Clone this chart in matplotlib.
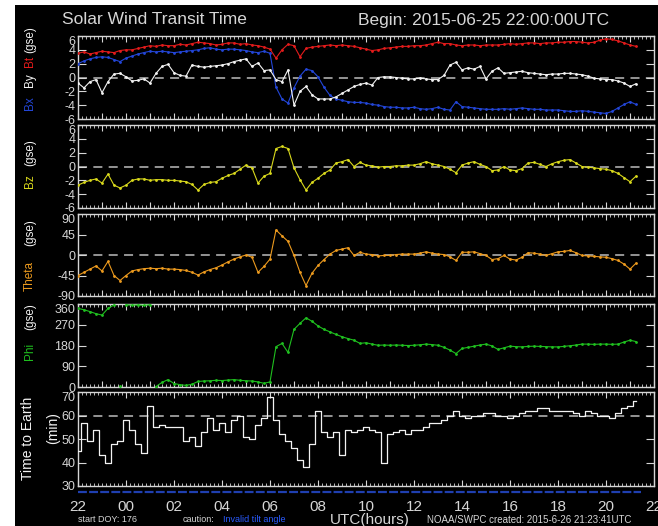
import numpy as np
import matplotlib.pyplot as plt
from matplotlib.patches import Rectangle
from matplotlib.ticker import MultipleLocator

plt.rcParams['font.family'] = ['Liberation Sans', 'DejaVu Sans']

# hours since 2015-06-25 22:00 UTC, one reading every 15 min
hours = np.arange(0, 23.5, 0.25)

# Bt / Bx / By (nT, gse)
bt = [3.5, 3.7, 3.4, 3.6, 3.8, 3.7, 3.6, 3.9,
      4.0, 4.0, 4.2, 4.4, 4.6, 4.5, 4.7, 4.6,
      4.6, 4.8, 4.7, 4.9, 5.1, 5.0, 4.9, 4.7,
      4.8, 5.0, 5.0, 4.8, 4.9, 4.7, 4.6, 4.4,
      4.1, 2.8, 4.0, 4.8, 4.6, 3.0, 4.2, 4.4,
      4.5, 4.6, 4.7, 4.6, 4.7, 4.6, 4.5, 4.3,
      4.1, 3.9, 4.0, 4.2, 4.3, 4.4, 4.5, 4.5,
      4.6, 4.6, 4.7, 4.9, 5.1, 4.9, 4.9, 4.7,
      4.6, 4.7, 4.7, 4.6, 4.7, 4.7, 4.7, 4.8,
      4.9, 4.8, 4.9, 5.0, 5.0, 4.9, 5.0, 5.0,
      5.1, 5.1, 5.2, 5.2, 5.1, 5.0, 5.1, 5.4,
      5.6, 5.5, 5.3, 5.0, 4.7, 4.5]
bx = [2.0, 2.4, 2.7, 2.9, 3.0, 2.9, 2.6, 2.3,
      2.8, 3.1, 3.4, 3.6, 3.8, 3.7, 3.8, 3.7,
      3.6, 3.7, 3.8, 3.9, 4.0, 4.2, 4.3, 4.1,
      4.0, 4.1, 4.1, 4.0, 3.9, 3.7, 3.6, 3.8,
      3.5, -1.4, -3.1, -3.7, -1.5, 0.2, 1.2, 1.0,
      0.1, -1.4, -2.6, -3.1, -3.3, -3.5, -3.6, -3.6,
      -3.7, -3.9, -4.0, -4.2, -4.3, -4.3, -4.4, -4.4,
      -4.3, -4.5, -4.6, -4.5, -4.3, -4.6, -4.7, -3.5,
      -4.2, -4.3, -4.4, -4.5, -4.6, -4.6, -4.6, -4.5,
      -4.6, -4.5, -4.4, -4.5, -4.6, -4.6, -4.7, -4.7,
      -4.7, -4.8, -4.9, -4.9, -4.8, -4.9, -5.0, -5.1,
      -5.2, -4.9, -4.4, -3.9, -3.5, -3.9]
by = [-0.8, -1.5, -0.6, -0.3, -2.2, -0.6, 0.5, 0.6,
      0.1, -0.5, -0.4, -0.2, -0.8, 0.6, 1.6, 1.9,
      0.7, 0.3, 0.2, 1.8, 1.6, 1.5, 1.6, 1.7,
      1.8, 2.0, 2.3, 2.5, 2.7, 1.6, 2.1, 1.0,
      1.1, -0.3, -0.6, 1.1, -4.0, -2.0, -1.3, -2.5,
      -3.1, -3.1, -3.1, -2.8, -2.3, -1.8, -1.3, -1.0,
      -0.8, -1.1, 0.0, 0.1, 0.1, 0.0, -0.1, -0.2,
      -0.2, -0.1, -0.2, -0.3, -0.3, 0.3, 1.8, 2.2,
      1.1, 1.4, 1.2, 1.6, -0.2, 0.9, 1.4, 0.6,
      0.7, 0.8, 0.9, 0.7, 0.6, 0.5, 0.4, 0.5,
      0.5, 0.6, 0.6, 0.5, 0.4, 0.2, -0.1, -0.2,
      -0.3, -0.3, -0.5, -0.8, -1.3, -0.9]
bz = [-2.7, -2.3, -2.0, -1.8, -2.4, -1.1, -2.7, -3.1,
      -2.7, -2.0, -1.8, -1.8, -2.0, -1.9, -1.9, -2.0,
      -2.0, -2.1, -2.2, -2.6, -3.4, -2.6, -2.3, -2.2,
      -1.7, -1.3, -1.0, -0.4, 0.2, -0.2, -2.4, -1.4,
      -1.0, 2.6, 2.9, 2.6, -0.2, -1.9, -3.4, -2.3,
      -1.7, -1.0, -0.5, 0.5, 0.7, 1.0, 0.0, 0.6,
      0.2, 0.1, -0.1, 0.0, 0.0, 0.1, 0.1, 0.2,
      0.2, 0.4, 0.7, 0.4, 0.2, 0.0, -0.4, -0.9,
      0.2, 0.5, 0.7, 0.3, 0.0, -0.6, -0.5, 0.0,
      -0.5, -0.6, -0.3, 0.5, 0.6, 0.3, 0.0, 0.4,
      0.7, 0.9, 1.0, 0.5, 0.0, -0.1, -0.2, -0.3,
      -0.4, -0.6, -1.0, -1.6, -2.2, -1.4]
theta = [-45, -38, -31, -24, -35, -14, -45, -56,
         -45, -35, -32, -30, -29, -30, -29, -31,
         -31, -32, -34, -38, -44, -37, -32, -28,
         -22, -15, -9, -4, 0, -5, -38, -25,
         -9, 55, 42, 30, -1, -38, -67, -40,
         -23, -10, 2, 10, 13, 16, -1, 6,
         2, 1, -2, -1, -1, 1, 2, 2,
         2, 4, 7, 4, 2, 1, -4, -12,
         6, 6, 7, 3, -1, -10, -8, -1,
         -9, -11, -5, 5, 4, 2, -1, 3,
         7, 8, 10, 5, -1, -2, -3, -4,
         -5, -8, -12, -20, -31, -18]
phi = [341, 335, 327, 318, 312, 341, 356, 4,
       357, 355, 356, 354, 357, 2, 20, 32,
       15, 10, 7, 12, 24, 26, 27, 29,
       28, 30, 32, 29, 27, 26, 22, 16,
       22, 175, 189, 150, 250, 276, 300, 285,
       265, 250, 239, 228, 218, 210, 203, 189,
       192, 186, 181, 182, 181, 182, 181, 180,
       181, 183, 186, 184, 181, 172, 160, 145,
       167, 172, 177, 182, 186, 178, 163, 170,
       177, 175, 174, 176, 177, 176, 175, 174,
       174, 176, 179, 182, 186, 186, 185, 186,
       186, 185, 186, 195, 203, 197]
transit = [45, 57, 49, 54, 43, 40, 48, 49,
           58, 54, 48, 44, 64, 55, 56, 55,
           55, 55, 49, 51, 47, 53, 59, 54,
           57, 53, 58, 60, 51, 50, 56, 59,
           68, 58, 52, 49, 46, 41, 38, 48,
           62, 53, 51, 53, 43, 54, 53, 54,
           55, 54, 53, 40, 52, 53, 54, 52,
           54, 54, 55, 57, 57, 58, 60, 62,
           60, 59, 60, 60, 61, 61, 60, 60,
           59, 60, 61, 62, 62, 63, 63, 62,
           62, 62, 62, 61, 60, 62, 61, 60,
           60, 59, 61, 63, 64, 66]

hour_labels = ['22', '00', '02', '04', '06', '08', '10', '12',
               '14', '16', '18', '20', '22']

W, H = 658, 526
FG = '#d6d6d6'
RED, BLUE, WHITE = '#e31b1b', '#2346d8', '#f2f2f2'
YELLOW, ORANGE, GREEN = '#d9d91c', '#ec9a1e', '#1fc01f'
GREY = '#a0a0a0'

fig = plt.figure(figsize=(W / 100, H / 100), dpi=100, facecolor='white')
fig.add_artist(Rectangle((15 / W, 0), 1, 1 - 5 / H, transform=fig.transFigure,
                         facecolor='black', edgecolor='none', zorder=-10))


def panel(top, bot, ylim, yticks):
    ax = fig.add_axes([78 / W, 1 - bot / H, 576 / W, (bot - top) / H])
    ax.set_facecolor('black')
    ax.set_xlim(0, 24)
    ax.set_ylim(*ylim)
    ax.set_yticks(yticks, [str(v) for v in yticks])
    for s in ax.spines.values():
        s.set_color(FG)
        s.set_linewidth(1)
    ax.xaxis.set_major_locator(MultipleLocator(1))
    ax.xaxis.set_minor_locator(MultipleLocator(1 / 6))
    ax.tick_params(axis='x', which='both', direction='in', top=True, bottom=True,
                   colors=FG, labelbottom=False)
    ax.tick_params(axis='x', which='major', length=4, width=0.8)
    ax.tick_params(axis='x', which='minor', length=2, width=0.6)
    ax.tick_params(axis='y', direction='in', left=True, right=True, length=6,
                   width=0.8, colors=FG, labelsize=9, pad=2)
    # top label hangs inside the frame, as in the original IDL plot
    ax.get_yticklabels()[-1].set_va('top')
    return ax


def zero_line(ax, y):
    ax.axhline(y, color=GREY, lw=1.3, ls=(0, (5, 3.5)), zorder=1)


def ftext(x, y, s, **kw):
    fig.text(x / W, 1 - y / H, s, **kw)


ax1 = panel(36, 119, (-6, 6), [-6, -4, -2, 0, 2, 4, 6])
ax2 = panel(125, 208, (-6, 6), [-6, -4, -2, 0, 2, 4, 6])
ax3 = panel(214, 296, (-90, 90), [-90, -45, 0, 45, 90])
ax4 = panel(304, 387, (0, 360), [0, 90, 180, 270, 360])
ax5 = panel(392, 486, (30, 70), [30, 40, 50, 60, 70])

line_kw = dict(lw=0.8, marker='.', ms=2.0, zorder=3)

zero_line(ax1, 0)
ax1.plot(hours, bt, color=RED, **line_kw)
ax1.plot(hours, bx, color=BLUE, **line_kw)
ax1.plot(hours, by, color=WHITE, **line_kw)

zero_line(ax2, 0)
ax2.plot(hours, bz, color=YELLOW, **line_kw)

zero_line(ax3, 0)
ax3.plot(hours, theta, color=ORANGE, **line_kw)

# break the phi trace where it wraps between 0 and 360
phi_v = np.array(phi, dtype=float)
wraps = np.where(np.abs(np.diff(phi_v)) > 180)[0] + 1
ax4.plot(np.insert(hours, wraps, np.nan), np.insert(phi_v, wraps, np.nan),
         color=GREEN, **line_kw)

zero_line(ax5, 60)
ax5.plot(hours, transit, color=WHITE, lw=0.9, drawstyle='steps-mid', zorder=3)
ax5.plot([0, 23.45], [27.4, 27.4], color='#1f3fb0', lw=1.6, ls=(0, (4, 1)),
         clip_on=False)

ax5.set_xticks(range(0, 25, 2))
ax5.set_xticklabels(hour_labels)
ax5.tick_params(axis='x', which='major', labelbottom=True, labelsize=11,
                labelcolor=FG, pad=10)

# titles
ftext(62, 20, 'Solar Wind Transit Time', color=FG, fontsize=12.5, va='center')
ftext(358, 20, 'Begin: 2015-06-25 22:00:00UTC', color=FG, fontsize=12.5,
      va='center')

# y labels, stacked colored words
lab = dict(rotation=90, ha='center', va='center', fontsize=8.5)
ftext(30, 103, 'Bx', color=BLUE, **lab)
ftext(30, 80, 'By', color=WHITE, **lab)
ftext(30, 61, 'Bt', color=RED, **lab)
ftext(30, 40, '(gse)', color=WHITE, **lab)
ftext(30, 181, 'Bz', color=YELLOW, **lab)
ftext(30, 153, '(gse)', color=WHITE, **lab)
ftext(30, 276, 'Theta', color=ORANGE, **lab)
ftext(30, 233, '(gse)', color=WHITE, **lab)
ftext(30, 351, 'Phi', color=GREEN, **lab)
ftext(30, 317, '(gse)', color=WHITE, **lab)
ftext(28, 438, 'Time to Earth', color=WHITE, rotation=90, ha='center',
      va='center', fontsize=10)
ftext(53, 428, '(min)', color=WHITE, rotation=90, ha='center', va='center',
      fontsize=10)

# footer
ftext(78, 520, 'start DOY: 176', color=FG, fontsize=6.5, va='center')
ftext(183, 520, 'caution:', color=FG, fontsize=6.5, va='center')
ftext(223, 520, 'Invalid tilt angle', color='#2a5bff', fontsize=6.5,
      va='center')
ftext(330, 520, 'UTC(hours)', color=FG, fontsize=11, va='center')
ftext(427, 520, 'NOAA/SWPC created: 2015-6-26 21:23:41UTC', color=FG,
      fontsize=7, va='center')

fig.savefig('out.png', dpi=100, facecolor=fig.get_facecolor())
